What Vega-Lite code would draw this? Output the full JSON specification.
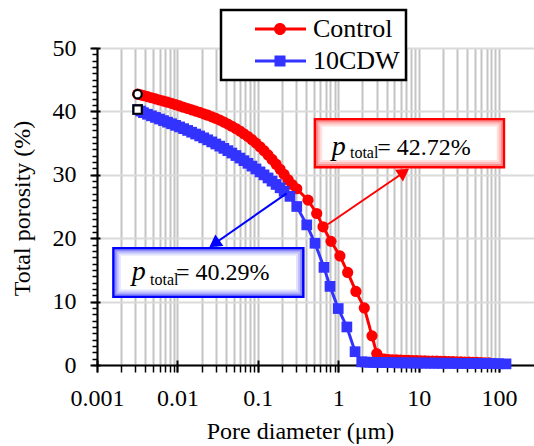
{
  "$schema": "https://vega.github.io/schema/vega-lite/v6.json",
  "width": 437,
  "height": 317,
  "autosize": {"type": "none"},
  "padding": {"left": 97, "top": 48, "right": 0, "bottom": 81},
  "background": "white",
  "config": {
    "view": {"stroke": null},
    "font": "Liberation Serif",
    "axis": {"labelFont": "Liberation Serif", "titleFont": "Liberation Serif", "labelFontWeight": "normal", "labelColor": "black", "titleColor": "black", "titleFontWeight": "normal", "tickColor": "black", "domainColor": "black"},
    "legend": {"labelFont": "Times New Roman", "labelFontWeight": "normal"}
  },
  "datasets": {
    "series": [
      {"s":"Control","d":0.0032,"v":42.72},{"s":"Control","d":0.0035,"v":42.62},{"s":"Control","d":0.00378,"v":42.5},{"s":"Control","d":0.00424,"v":42.33},{"s":"Control","d":0.00476,"v":42.15},{"s":"Control","d":0.00534,"v":41.98},{"s":"Control","d":0.00599,"v":41.8},{"s":"Control","d":0.00672,"v":41.62},{"s":"Control","d":0.00754,"v":41.45},{"s":"Control","d":0.00846,"v":41.26},{"s":"Control","d":0.00949,"v":41.06},{"s":"Control","d":0.01065,"v":40.86},{"s":"Control","d":0.01195,"v":40.66},{"s":"Control","d":0.0134,"v":40.46},{"s":"Control","d":0.01504,"v":40.25},{"s":"Control","d":0.01687,"v":40.05},{"s":"Control","d":0.01893,"v":39.84},{"s":"Control","d":0.02124,"v":39.62},{"s":"Control","d":0.02383,"v":39.4},{"s":"Control","d":0.02674,"v":39.15},{"s":"Control","d":0.03,"v":38.9},{"s":"Control","d":0.03366,"v":38.62},{"s":"Control","d":0.03777,"v":38.32},{"s":"Control","d":0.04238,"v":38.0},{"s":"Control","d":0.04755,"v":37.66},{"s":"Control","d":0.05335,"v":37.3},{"s":"Control","d":0.05986,"v":36.9},{"s":"Control","d":0.06716,"v":36.48},{"s":"Control","d":0.07536,"v":36.03},{"s":"Control","d":0.08455,"v":35.54},{"s":"Control","d":0.09487,"v":35.0},{"s":"Control","d":0.1064,"v":34.42},{"s":"Control","d":0.1194,"v":33.8},{"s":"Control","d":0.134,"v":33.13},{"s":"Control","d":0.1503,"v":32.42},{"s":"Control","d":0.1687,"v":31.67},{"s":"Control","d":0.1893,"v":30.88},{"s":"Control","d":0.2124,"v":30.06},{"s":"Control","d":0.2383,"v":29.22},{"s":"Control","d":0.2674,"v":28.45},{"s":"Control","d":0.305,"v":27.8},{"s":"Control","d":0.421,"v":26.0},{"s":"Control","d":0.54,"v":23.9},{"s":"Control","d":0.647,"v":21.8},{"s":"Control","d":0.813,"v":19.5},{"s":"Control","d":1.05,"v":17.2},{"s":"Control","d":1.31,"v":14.6},{"s":"Control","d":1.66,"v":11.6},{"s":"Control","d":2.11,"v":9.0},{"s":"Control","d":2.63,"v":4.6},{"s":"Control","d":3.01,"v":1.8},{"s":"Control","d":3.35,"v":1.05},{"s":"Control","d":3.76,"v":0.93},{"s":"Control","d":4.22,"v":0.87},{"s":"Control","d":4.73,"v":0.83},{"s":"Control","d":5.31,"v":0.8},{"s":"Control","d":5.96,"v":0.78},{"s":"Control","d":6.68,"v":0.75},{"s":"Control","d":7.5,"v":0.73},{"s":"Control","d":8.41,"v":0.71},{"s":"Control","d":9.44,"v":0.69},{"s":"Control","d":10.6,"v":0.67},{"s":"Control","d":11.9,"v":0.65},{"s":"Control","d":13.3,"v":0.63},{"s":"Control","d":14.9,"v":0.61},{"s":"Control","d":16.8,"v":0.6},{"s":"Control","d":18.8,"v":0.58},{"s":"Control","d":21.1,"v":0.56},{"s":"Control","d":23.7,"v":0.54},{"s":"Control","d":26.6,"v":0.52},{"s":"Control","d":29.8,"v":0.5},{"s":"Control","d":33.5,"v":0.48},{"s":"Control","d":37.6,"v":0.46},{"s":"Control","d":42.2,"v":0.44},{"s":"Control","d":47.3,"v":0.42},{"s":"Control","d":53.1,"v":0.4},{"s":"Control","d":59.6,"v":0.38},{"s":"Control","d":66.8,"v":0.36},{"s":"Control","d":75.0,"v":0.34},
      {"s":"10CDW","d":0.0032,"v":40.29},{"s":"10CDW","d":0.0035,"v":40.05},{"s":"10CDW","d":0.00378,"v":39.8},{"s":"10CDW","d":0.00424,"v":39.55},{"s":"10CDW","d":0.00476,"v":39.3},{"s":"10CDW","d":0.00534,"v":39.05},{"s":"10CDW","d":0.00599,"v":38.8},{"s":"10CDW","d":0.00672,"v":38.55},{"s":"10CDW","d":0.00754,"v":38.3},{"s":"10CDW","d":0.00846,"v":38.05},{"s":"10CDW","d":0.00949,"v":37.8},{"s":"10CDW","d":0.01065,"v":37.55},{"s":"10CDW","d":0.01195,"v":37.28},{"s":"10CDW","d":0.0134,"v":37.0},{"s":"10CDW","d":0.01504,"v":36.72},{"s":"10CDW","d":0.01687,"v":36.43},{"s":"10CDW","d":0.01893,"v":36.13},{"s":"10CDW","d":0.02124,"v":35.83},{"s":"10CDW","d":0.02383,"v":35.52},{"s":"10CDW","d":0.02674,"v":35.19},{"s":"10CDW","d":0.03,"v":34.86},{"s":"10CDW","d":0.03366,"v":34.52},{"s":"10CDW","d":0.03777,"v":34.17},{"s":"10CDW","d":0.04238,"v":33.81},{"s":"10CDW","d":0.04755,"v":33.43},{"s":"10CDW","d":0.05335,"v":33.04},{"s":"10CDW","d":0.05986,"v":32.64},{"s":"10CDW","d":0.06716,"v":32.23},{"s":"10CDW","d":0.07536,"v":31.81},{"s":"10CDW","d":0.08455,"v":31.37},{"s":"10CDW","d":0.09487,"v":30.92},{"s":"10CDW","d":0.1064,"v":30.46},{"s":"10CDW","d":0.1194,"v":29.99},{"s":"10CDW","d":0.134,"v":29.5},{"s":"10CDW","d":0.1503,"v":29.0},{"s":"10CDW","d":0.1687,"v":28.48},{"s":"10CDW","d":0.1893,"v":27.95},{"s":"10CDW","d":0.2124,"v":27.4},{"s":"10CDW","d":0.251,"v":26.6},{"s":"10CDW","d":0.305,"v":25.0},{"s":"10CDW","d":0.406,"v":22.1},{"s":"10CDW","d":0.514,"v":19.2},{"s":"10CDW","d":0.665,"v":15.4},{"s":"10CDW","d":0.79,"v":12.4},{"s":"10CDW","d":1.0,"v":8.9},{"s":"10CDW","d":1.28,"v":6.0},{"s":"10CDW","d":1.62,"v":2.1},{"s":"10CDW","d":1.96,"v":0.5},{"s":"10CDW","d":2.2,"v":0.46},{"s":"10CDW","d":2.47,"v":0.43},{"s":"10CDW","d":2.77,"v":0.41},{"s":"10CDW","d":3.1,"v":0.4},{"s":"10CDW","d":3.48,"v":0.39},{"s":"10CDW","d":3.9,"v":0.38},{"s":"10CDW","d":4.38,"v":0.37},{"s":"10CDW","d":4.92,"v":0.36},{"s":"10CDW","d":5.52,"v":0.35},{"s":"10CDW","d":6.19,"v":0.34},{"s":"10CDW","d":6.95,"v":0.33},{"s":"10CDW","d":7.8,"v":0.33},{"s":"10CDW","d":8.75,"v":0.32},{"s":"10CDW","d":9.82,"v":0.31},{"s":"10CDW","d":11.0,"v":0.31},{"s":"10CDW","d":12.4,"v":0.3},{"s":"10CDW","d":13.9,"v":0.3},{"s":"10CDW","d":15.6,"v":0.29},{"s":"10CDW","d":17.5,"v":0.29},{"s":"10CDW","d":19.6,"v":0.28},{"s":"10CDW","d":22.0,"v":0.28},{"s":"10CDW","d":24.7,"v":0.27},{"s":"10CDW","d":27.7,"v":0.27},{"s":"10CDW","d":31.1,"v":0.26},{"s":"10CDW","d":34.9,"v":0.26},{"s":"10CDW","d":39.2,"v":0.25},{"s":"10CDW","d":44.0,"v":0.25},{"s":"10CDW","d":49.3,"v":0.24},{"s":"10CDW","d":55.4,"v":0.24},{"s":"10CDW","d":62.1,"v":0.23},{"s":"10CDW","d":69.7,"v":0.22},{"s":"10CDW","d":78.2,"v":0.22},{"s":"10CDW","d":87.8,"v":0.21},{"s":"10CDW","d":98.5,"v":0.2},{"s":"10CDW","d":122,"v":0.18}
    ],
    "boxes": [
      {"g":"Control","x1":0.514,"x2":115,"y1":38.75,"y2":31.18},
      {"g":"10CDW","x1":0.0016,"x2":0.368,"y1":18.4,"y2":10.77}
    ],
    "arrows": [
      {"g":"Control","x1":0.746,"y1":22.2,"x2":6.58,"y2":30.41},
      {"g":"10CDW","x1":0.2285,"y1":27.08,"x2":0.0288,"y2":19.13}
    ],
    "texts": [
      {"g":"Control","part":"p","x":0.83,"y":33.12,"t":"p"},
      {"g":"Control","part":"sub","x":1.4,"y":32.65,"t":"total"},
      {"g":"Control","part":"val","x":3.06,"y":33.12,"t":"= 42.72%"},
      {"g":"10CDW","part":"p","x":0.0027,"y":13.41,"t":"p"},
      {"g":"10CDW","part":"sub","x":0.00456,"y":12.62,"t":"total"},
      {"g":"10CDW","part":"val","x":0.00961,"y":13.41,"t":"= 40.29%"}
    ]
  },
  "resolve": {"axis": {"x": "independent", "y": "independent"}},
  "layer": [
    {
      "data": {"name": "series"},
      "mark": {"type": "line", "strokeWidth": 3},
      "encoding": {
        "x": {"field": "d", "type": "quantitative",
          "scale": {"type": "log", "domain": [0.001, 272], "nice": false},
          "axis": {"orient": "bottom", "title": null, "labels": false, "domain": false, "grid": true, "gridColor": "#c4c4c4", "gridWidth": 2, "tickSize": 7, "tickWidth": 1.5,
            "values": [0.001,0.002,0.003,0.004,0.005,0.006,0.007,0.008,0.009,0.01,0.02,0.03,0.04,0.05,0.06,0.07,0.08,0.09,0.1,0.2,0.3,0.4,0.5,0.6,0.7,0.8,0.9,1,2,3,4,5,6,7,8,9,10,20,30,40,50,60,70,80,90,100]}},
        "y": {"field": "v", "type": "quantitative",
          "scale": {"domain": [0, 50], "nice": false},
          "axis": {"orient": "left", "title": null, "labels": false, "domain": false, "grid": false, "tickSize": 5, "tickWidth": 1.5,
            "values": [0,1,2,3,4,5,6,7,8,9,10,11,12,13,14,15,16,17,18,19,20,21,22,23,24,25,26,27,28,29,30,31,32,33,34,35,36,37,38,39,40,41,42,43,44,45,46,47,48,49,50]}},
        "color": {"field": "s", "type": "nominal", "scale": {"domain": ["Control", "10CDW"], "range": ["#ff0000", "#3333ff"]},
          "legend": {"orient": "none", "legendX": 124, "legendY": -38, "title": null, "padding": 6,
            "fillColor": "white", "strokeColor": "black",
            "labelFont": "Times New Roman", "labelFontWeight": "normal", "labelFontSize": 26, "labelColor": "black", "labelOffset": 60, "symbolSize": 400, "rowPadding": 6,
            "symbolStrokeWidth": 0, "symbolOpacity": 1,
            "labelExpr": "datum.label + '  '",
            "encode": {
              "legend": {"update": {"stroke": {"value": "black"}, "strokeWidth": {"value": 2.5}, "fill": {"value": "white"}}},
              "symbols": {"update": {
                "fill": {"scale": "color", "field": "value"},
                "stroke": {"value": "transparent"},
                "opacity": {"value": 1},
                "shape": {"signal": "datum.value === 'Control' ? 'M1.5,-0.15H6.6V0.15H1.5Z M4.6,0A0.6,0.6,0,1,1,3.4,0A0.6,0.6,0,1,1,4.6,0Z' : 'M1.5,-0.15H6.6V0.15H1.5Z M3.45,-0.55H4.55V0.55H3.45Z'"}}}
            }}}
      }
    },
    {
      "data": {"name": "series"},
      "transform": [{"filter": "datum.s === 'Control'"}],
      "mark": {"type": "point", "shape": "circle", "filled": true, "opacity": 1, "size": 125},
      "encoding": {
        "x": {"field": "d", "type": "quantitative",
          "axis": {"orient": "bottom", "title": "Pore diameter (μm)", "titleFont": "Liberation Serif", "titleFontSize": 24, "titleX": 203, "titleY": 73, "titleBaseline": "alphabetic", "titleAlign": "center",
            "labels": true, "labelFont": "Times New Roman", "labelFontWeight": "normal", "labelFontSize": 24, "labelBaseline": "alphabetic", "labelPadding": 33, "labelFlush": false, "labelOverlap": false,
            "domain": true, "domainWidth": 2, "grid": false, "tickSize": 7, "tickWidth": 2,
            "values": [0.001, 0.01, 0.1, 1, 10, 100], "labelExpr": "datum.value >= 1 ? format(datum.value, 'd') : format(datum.value, '.3~f')"}},
        "y": {"field": "v", "type": "quantitative",
          "axis": {"orient": "left", "title": "Total porosity (%)", "titleFont": "Liberation Serif", "titleFontSize": 24, "titleX": -75, "titleY": 160, "titleAngle": -90, "titleBaseline": "middle", "titleAlign": "center",
            "labels": true, "labelFont": "Liberation Serif", "labelFontWeight": "normal", "labelFontSize": 24, "labelPadding": 14, "labelFlush": false,
            "domain": true, "domainWidth": 2, "grid": true, "gridColor": "#dadada", "gridWidth": 2, "tickSize": 7, "tickWidth": 2,
            "values": [0, 10, 20, 30, 40, 50]}},
        "color": {"field": "s", "type": "nominal"}
      }
    },
    {
      "data": {"name": "series"},
      "transform": [{"filter": "datum.s === '10CDW'"}],
      "mark": {"type": "point", "shape": "square", "filled": true, "opacity": 1, "size": 115},
      "encoding": {
        "x": {"field": "d", "type": "quantitative",
          "axis": {"orient": "bottom", "title": null, "labels": false, "domain": false, "grid": false, "tickSize": -5, "tickWidth": 2, "values": [0.001, 0.01, 0.1, 1, 10, 100]}},
        "y": {"field": "v", "type": "quantitative",
          "axis": {"orient": "left", "title": null, "labels": false, "domain": false, "grid": false, "tickSize": -3, "tickWidth": 2, "values": [0, 10, 20, 30, 40, 50]}},
        "color": {"field": "s", "type": "nominal"}
      }
    },
    {
      "data": {"name": "series"},
      "transform": [{"filter": "datum.d === 0.0032 && datum.s === 'Control'"}],
      "mark": {"type": "point", "shape": "circle", "filled": true, "fill": "white", "stroke": "black", "strokeWidth": 2.2, "opacity": 1, "size": 70},
      "encoding": {
        "x": {"field": "d", "type": "quantitative", "axis": null},
        "y": {"field": "v", "type": "quantitative", "axis": null}
      }
    },
    {
      "data": {"name": "series"},
      "transform": [{"filter": "datum.d === 0.0032 && datum.s === '10CDW'"}],
      "mark": {"type": "point", "shape": "square", "filled": true, "fill": "white", "stroke": "black", "strokeWidth": 2.2, "opacity": 1, "size": 70},
      "encoding": {
        "x": {"field": "d", "type": "quantitative", "axis": null},
        "y": {"field": "v", "type": "quantitative", "axis": null}
      }
    },
    {
      "data": {"name": "boxes"},
      "mark": {"type": "rect", "fill": "white", "strokeWidth": 2.5},
      "encoding": {
        "x": {"field": "x1", "type": "quantitative", "axis": null},
        "x2": {"field": "x2"},
        "y": {"field": "y1", "type": "quantitative", "axis": null},
        "y2": {"field": "y2"},
        "stroke": {"field": "g", "type": "nominal", "scale": {"domain": ["Control", "10CDW"], "range": ["#ff0000", "#0000ff"]}, "legend": null}
      }
    },
    {
      "data": {"name": "boxes"},
      "mark": {"type": "rect", "fill": null, "strokeWidth": 2, "strokeOpacity": 0.45, "xOffset": 2.25, "x2Offset": -2.25, "yOffset": 2.25, "y2Offset": -2.25},
      "encoding": {
        "x": {"field": "x1", "type": "quantitative", "axis": null},
        "x2": {"field": "x2"},
        "y": {"field": "y1", "type": "quantitative", "axis": null},
        "y2": {"field": "y2"},
        "stroke": {"field": "g", "type": "nominal", "legend": null}
      }
    },
    {
      "data": {"name": "boxes"},
      "mark": {"type": "rect", "fill": null, "strokeWidth": 2, "strokeOpacity": 0.25, "xOffset": 4.25, "x2Offset": -4.25, "yOffset": 4.25, "y2Offset": -4.25},
      "encoding": {
        "x": {"field": "x1", "type": "quantitative", "axis": null},
        "x2": {"field": "x2"},
        "y": {"field": "y1", "type": "quantitative", "axis": null},
        "y2": {"field": "y2"},
        "stroke": {"field": "g", "type": "nominal", "legend": null}
      }
    },
    {
      "data": {"name": "boxes"},
      "mark": {"type": "rect", "fill": null, "strokeWidth": 2, "strokeOpacity": 0.12, "xOffset": 6.25, "x2Offset": -6.25, "yOffset": 6.25, "y2Offset": -6.25},
      "encoding": {
        "x": {"field": "x1", "type": "quantitative", "axis": null},
        "x2": {"field": "x2"},
        "y": {"field": "y1", "type": "quantitative", "axis": null},
        "y2": {"field": "y2"},
        "stroke": {"field": "g", "type": "nominal", "legend": null}
      }
    },
    {
      "data": {"name": "arrows"},
      "mark": {"type": "rule", "strokeWidth": 2},
      "encoding": {
        "x": {"field": "x1", "type": "quantitative", "axis": null},
        "y": {"field": "y1", "type": "quantitative", "axis": null},
        "x2": {"field": "x2"},
        "y2": {"field": "y2"},
        "stroke": {"field": "g", "type": "nominal", "legend": null}
      }
    },
    {
      "data": {"name": "arrows"},
      "transform": [{"filter": "datum.g === 'Control'"}],
      "mark": {"type": "point", "shape": "triangle-up", "filled": true, "fill": "#ff0000", "opacity": 1, "size": 200, "angle": 55.5},
      "encoding": {
        "x": {"field": "x2", "type": "quantitative", "axis": null},
        "y": {"field": "y2", "type": "quantitative", "axis": null}
      }
    },
    {
      "data": {"name": "arrows"},
      "transform": [{"filter": "datum.g === '10CDW'"}],
      "mark": {"type": "point", "shape": "triangle-up", "filled": true, "fill": "#0000ff", "opacity": 1, "size": 200, "angle": 235},
      "encoding": {
        "x": {"field": "x2", "type": "quantitative", "axis": null},
        "y": {"field": "y2", "type": "quantitative", "axis": null}
      }
    },
    {
      "data": {"name": "texts"},
      "transform": [{"filter": "datum.part === 'p'"}],
      "mark": {"type": "text", "font": "Times New Roman", "fontStyle": "italic", "fontWeight": "normal", "fontSize": 28, "align": "left", "baseline": "alphabetic", "color": "black"},
      "encoding": {
        "x": {"field": "x", "type": "quantitative", "axis": null},
        "y": {"field": "y", "type": "quantitative", "axis": null},
        "text": {"field": "t"}
      }
    },
    {
      "data": {"name": "texts"},
      "transform": [{"filter": "datum.part === 'sub'"}],
      "mark": {"type": "text", "font": "Times New Roman", "fontWeight": "normal", "fontStyle": "normal", "fontSize": 16, "align": "left", "baseline": "alphabetic", "color": "black"},
      "encoding": {
        "x": {"field": "x", "type": "quantitative", "axis": null},
        "y": {"field": "y", "type": "quantitative", "axis": null},
        "text": {"field": "t"}
      }
    },
    {
      "data": {"name": "texts"},
      "transform": [{"filter": "datum.part === 'val'"}],
      "mark": {"type": "text", "font": "Times New Roman", "fontWeight": "normal", "fontStyle": "normal", "fontSize": 24, "align": "left", "baseline": "alphabetic", "color": "black"},
      "encoding": {
        "x": {"field": "x", "type": "quantitative", "axis": null},
        "y": {"field": "y", "type": "quantitative", "axis": null},
        "text": {"field": "t"}
      }
    }
  ]
}
